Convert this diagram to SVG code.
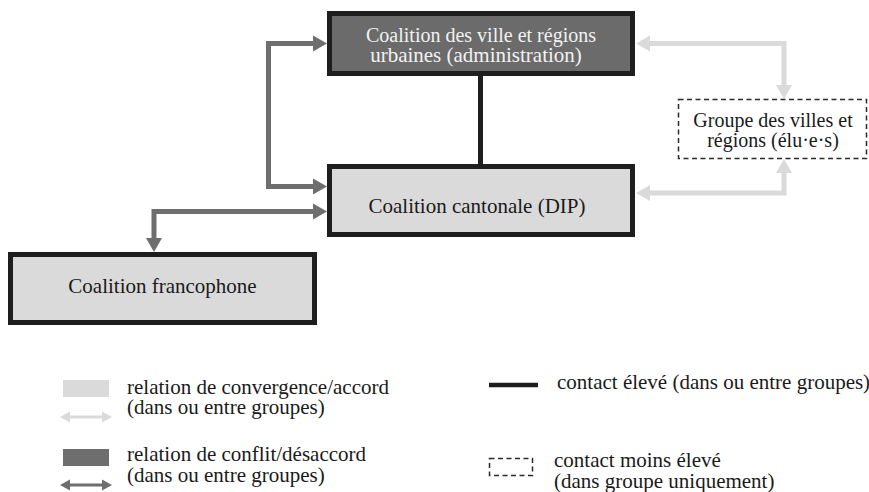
<svg xmlns="http://www.w3.org/2000/svg" width="869" height="492" viewBox="0 0 869 492">
  <style>
    text { font-family: "Liberation Serif", "DejaVu Serif", serif; font-size: 21px; fill: #1a1a1a; }
    .mid { text-anchor: middle; }
    .small { font-size: 20px; }
    .light-txt { fill: #f2f2f2; }
    .box { stroke: #1e1e1e; stroke-width: 5; }
    .box-dark { fill: #6b6b6b; }
    .box-light { fill: #dadada; }
    .box-dash { fill: #ffffff; stroke: #2a2a2a; stroke-width: 1.5; stroke-dasharray: 5 3.5; }
    .conflict { fill: none; stroke: #6e6e6e; stroke-width: 5; stroke-linejoin: miter; }
    .agree { fill: none; stroke: #dadada; stroke-width: 5; stroke-linejoin: miter; }
    .contact { fill: none; stroke: #1e1e1e; stroke-width: 5; }
    .head-conflict { fill: #6e6e6e; }
    .head-agree { fill: #dadada; }
  </style>
  <defs>
    <marker id="arrow-conflict" markerUnits="userSpaceOnUse" markerWidth="14" markerHeight="16" refX="0" refY="8" orient="auto-start-reverse" overflow="visible">
      <path d="M0,0 L14,8 L0,16 Z" class="head-conflict"/>
    </marker>
    <marker id="arrow-agree" markerUnits="userSpaceOnUse" markerWidth="14" markerHeight="16" refX="0" refY="8" orient="auto-start-reverse" overflow="visible">
      <path d="M0,0 L14,8 L0,16 Z" class="head-agree"/>
    </marker>
  </defs>

  <!-- connectors -->
  <g id="connectors">
    <line class="contact" x1="480.5" y1="76" x2="480.5" y2="165"/>
    <path class="conflict" d="M313,43.5 H268.5 V186.5 H313" marker-start="url(#arrow-conflict)" marker-end="url(#arrow-conflict)"/>
    <path class="conflict" d="M154,238 V211.5 H313" marker-start="url(#arrow-conflict)" marker-end="url(#arrow-conflict)"/>
    <path class="agree" d="M650,43.5 H784 V85" marker-start="url(#arrow-agree)" marker-end="url(#arrow-agree)"/>
    <path class="agree" d="M650,193 H784 V173" marker-start="url(#arrow-agree)" marker-end="url(#arrow-agree)"/>
  </g>

  <!-- nodes -->
  <g id="node-villes-admin">
    <rect class="box box-dark" x="329.5" y="13.5" width="303" height="60"/>
    <text class="mid small light-txt" x="481" y="42">Coalition des ville et régions</text>
    <text class="mid light-txt" x="476" y="62">urbaines (administration)</text>
  </g>
  <g id="node-cantonale">
    <rect class="box box-light" x="329.5" y="166.5" width="303" height="68"/>
    <text class="mid" x="477" y="213">Coalition cantonale (DIP)</text>
  </g>
  <g id="node-francophone">
    <rect class="box box-light" x="10.5" y="254.5" width="304" height="68"/>
    <text class="mid" x="162.5" y="293">Coalition francophone</text>
  </g>
  <g id="node-groupe-elus">
    <rect class="box-dash" x="678.5" y="99.5" width="188" height="59"/>
    <text class="mid small" x="773" y="127">Groupe des villes et</text>
    <text class="mid small" x="773" y="147">régions (élu·e·s)</text>
  </g>

  <!-- legend -->
  <g id="legend">
    <rect x="63" y="380" width="46" height="17" fill="#dadada"/>
    <line x1="69" y1="417" x2="103" y2="417" stroke="#dadada" stroke-width="3"/>
    <polygon class="head-agree" points="60,417 70,411.5 70,422.5"/>
    <polygon class="head-agree" points="112,417 102,411.5 102,422.5"/>
    <text x="127" y="394">relation de convergence/accord</text>
    <text x="127" y="414">(dans ou entre groupes)</text>

    <rect x="63" y="449" width="46" height="17" fill="#6e6e6e"/>
    <line x1="69" y1="485" x2="103" y2="485" stroke="#6e6e6e" stroke-width="3"/>
    <polygon class="head-conflict" points="60,485 70,479.5 70,490.5"/>
    <polygon class="head-conflict" points="112,485 102,479.5 102,490.5"/>
    <text x="127" y="461">relation de conflit/désaccord</text>
    <text x="127" y="482">(dans ou entre groupes)</text>

    <line x1="489" y1="385" x2="538" y2="385" stroke="#1e1e1e" stroke-width="4.5"/>
    <text x="557" y="389">contact élevé (dans ou entre groupes)</text>

    <rect class="box-dash" x="489.5" y="458.5" width="43" height="17"/>
    <text x="554" y="467">contact moins élevé</text>
    <text x="554" y="488">(dans groupe uniquement)</text>
  </g>
</svg>
